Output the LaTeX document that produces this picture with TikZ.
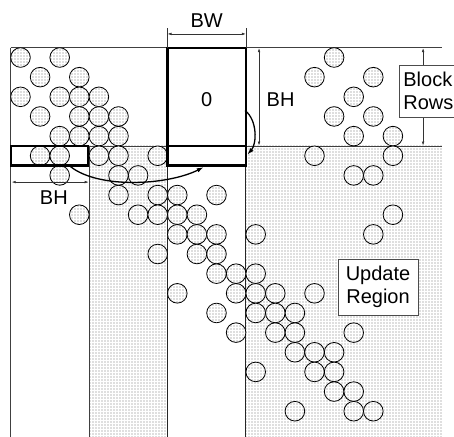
\documentclass[tikz,border=0pt]{standalone}
\usepackage{fontspec}
\setmainfont{Liberation Sans}
\usetikzlibrary{patterns.meta,arrows.meta}
\begin{document}
\begin{tikzpicture}[x=19.6pt,y=-19.65pt,
  dotfill/.style={pattern={Dots[distance=3pt,radius=0.6pt]},pattern color=black!55},
  ballbg/.style={fill=white},
  ballfg/.style={draw=black,line width=0.8pt},
  thinline/.style={draw=black!75,line width=0.8pt},
  medline/.style={draw=black!85,line width=1.1pt},
  blockline/.style={draw=black,line width=2.2pt},
  dimline/.style={draw=black!80,line width=0.6pt,{Latex[length=4pt,width=2.6pt]}-{Latex[length=4pt,width=2.6pt]}},
  extline/.style={draw=black!80,line width=0.6pt},
  bendarrow/.style={draw=black,line width=1.3pt,-{Latex[length=7pt,width=4.5pt]}},
  lbl/.style={font=\fontsize{20}{23}\selectfont,inner sep=0pt},
  tbox/.style={draw=black!70,line width=0.8pt,fill=white,font=\fontsize{20}{23}\selectfont}]
\useasboundingbox (-0.546,-2.427) rectangle (22.617,19.812);
\clip (-0.546,-2.427) rectangle (22.617,19.812);
% dotted regions
\path[dotfill] (4,5) rectangle (8,20);
\path[dotfill] (12,5) rectangle (22,20);
% region lines
\draw[thinline] (0,0) -- (22,0);
\draw[thinline] (0,0) -- (0,20);
\draw[thinline] (4,5) -- (4,20);
\draw[thinline] (4,5) -- (8,5);
\draw[thinline] (12,5) -- (22,5);
\draw[medline] (8,0) -- (8,20);
\draw[medline] (12,0) -- (12,20);
% nonzero entries
\foreach \c/\r in {0/0,2/0,16/0,
  1/1,3/1,15/1,18/1,
  0/2,2/2,3/2,4/2,17/2,
  1/3,3/3,4/3,5/3,16/3,18/3,
  2/4,3/4,4/4,5/4,17/4,19/4,
  1/5,2/5,4/5,5/5,7/5,15/5,19/5,
  2/6,5/6,6/6,17/6,18/6,
  5/7,7/7,8/7,10/7,
  3/8,6/8,7/8,8/8,9/8,19/8,
  8/9,9/9,10/9,12/9,18/9,
  7/10,9/10,10/10,
  10/11,11/11,12/11,
  8/12,11/12,12/12,13/12,15/12,
  10/13,12/13,13/13,14/13,
  11/14,13/14,14/14,17/14,
  14/15,15/15,16/15,
  12/16,15/16,16/16,
  16/17,17/17,
  14/18,17/18,18/18}
  {\path[ballbg] (\c+0.5,\r+0.5) circle[radius=9.8pt];
   \path[dotfill] (\c+0.5,\r+0.5) circle[radius=9.8pt];
   \path[ballfg] (\c+0.5,\r+0.5) circle[radius=9.8pt];}
% blocks
\draw[blockline] (0,5) rectangle (3.96,6);
\draw[blockline] (8,0) rectangle (12,6);
\draw[blockline] (8,5) -- (12,5);
% labels
\node[lbl] (zero) at (10,2.66) {0};
% BW dimension
\coordinate (bwl) at (8,-0.70);
\coordinate (bwr) at (12,-0.70);
\coordinate (bwlt) at (8,-1.0);
\coordinate (bwrt) at (12,-1.0);
\coordinate (bwlb) at (8,0);
\coordinate (bwrb) at (12,0);
\draw[extline] (bwlt) -- (bwlb);
\draw[extline] (bwrt) -- (bwrb);
\draw[dimline] (bwl) -- (bwr);
\node[lbl] (bw) at (10,-1.38) {BW};
% BH right dimension
\coordinate (bht) at (12.67,0.02);
\coordinate (bhb) at (12.67,4.98);
\draw[dimline] (bht) -- (bhb);
\node[lbl] (bhr) at (13.77,2.66) {BH};
% Block rows dimension
\coordinate (brt) at (21.04,0.02);
\coordinate (brb) at (21.04,4.98);
\draw[dimline] (brt) -- (brb);
\node[tbox,anchor=west,inner xsep=4pt,inner ysep=0pt,minimum height=52pt,align=left] (rows) at (19.81,2.20) {Block\\Rows};
% BH left dimension
\coordinate (bhll) at (0.05,6.84);
\coordinate (bhlr) at (3.98,6.84);
\draw[dimline] (bhll) -- (bhlr);
\node[lbl] (bhl) at (2.2,7.62) {BH};
% update region
\node[tbox,minimum width=80pt,minimum height=56pt,inner sep=0pt,align=center] (upd) at (18.74,12.18) {Update\\Region};
% curved arrows
\coordinate (c1s) at (3.05,6.05);
\coordinate (c1e) at (9.85,6.08);
\draw[bendarrow] (c1s) .. controls (4.5,7.2) and (8,7.0) .. (c1e);
\coordinate (c2s) at (11.96,3.2);
\coordinate (c2e) at (12.07,5.45);
\draw[bendarrow] (c2s) .. controls (12.6,3.7) and (12.55,4.9) .. (c2e);
\end{tikzpicture}
\end{document}
